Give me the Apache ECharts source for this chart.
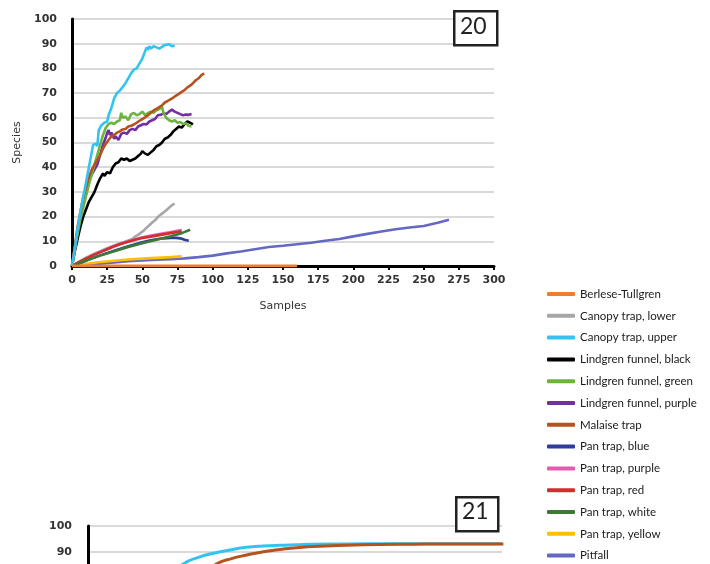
<!DOCTYPE html>
<html><head><meta charset="utf-8">
<script src="https://cdn.jsdelivr.net/npm/echarts@6/dist/echarts.min.js"></script>
<style>html,body{margin:0;padding:0;background:#fff}#c{width:710px;height:564px}</style>
</head><body><div id="c"></div>
<script>
// ---- Panel 20 data: [samples, species] ----
const berleseTullgren = [[0,0],[40,0],[80,0],[120,0],[160,0]];
const canopyLower = [[0,0],[5,1.8],[10,3.4],[15,4.8],[20,6],[25,7.2],[30,8.3],[35,9.3],[40,10.3],[43,11],[45,12],[47,12.6],[49,13.5],[51,14.3],[53,15.5],[55,16.5],[57,17.6],[59,18.5],[61,19.8],[63,20.8],[65,21.6],[67,22.6],[69,23.6],[71,24.6],[73,25.3]];
const canopyUpper = [[0,0],[2,7],[4,15],[6,22],[8,28],[10,34],[12,40],[14,46],[15,49],[17,49.5],[18,48.5],[19,55],[21,57],[23,58],[25,58.5],[26,61],[28,64],[30,68],[32,70],[34,71],[36,72.5],[38,74],[40,76],[42,78],[44,79.5],[46,80],[48,82],[50,84],[52,87],[53,88.5],[54,87.5],[55,89],[56,88],[57,88.5],[58,89],[60,88.5],[62,88],[64,88.7],[66,89.5],[67,89],[69,89.8],[71,89],[73,89.3]];
const lindgrenBlack = [[0,0],[2,6],[4,11],[6,16],[8,20],[10,23],[12,26],[14,28],[16,30],[18,33],[20,35.5],[22,37.5],[23,36.5],[25,38],[27,37.5],[29,40],[31,41.5],[33,42],[35,43.5],[37,43],[39,43.5],[41,42.5],[43,43],[45,43.5],[47,44.5],[49,45.5],[50,46.5],[52,45.5],[54,45],[56,46],[58,47],[60,48.5],[62,49],[64,50],[66,51.5],[68,52],[70,53],[72,54.5],[74,55.5],[76,56.5],[78,56],[80,57.5],[82,58.5],[84,58],[86,57.3]];
const lindgrenGreen = [[0,0],[3,10],[6,19],[9,26],[12,33],[15,39],[18,45],[20,49],[22,53],[24,56],[26,57.5],[28,58],[30,57.5],[32,58.5],[34,59],[35,62],[36,60],[38,60.5],[40,59],[42,61.5],[44,62],[46,61],[48,61.5],[50,62.5],[52,61],[54,62],[56,62.5],[58,62],[60,63],[62,63.5],[64,64.5],[65,62],[67,60],[69,59],[71,58.5],[73,59],[75,58],[77,58.3],[79,57.5],[81,57.8],[83,56.8],[85,56.5]];
const lindgrenPurple = [[0,0],[2,7],[4,14],[6,20],[8,26],[10,30],[12,34],[14,37],[16,39],[18,41],[20,45],[22,49],[24,52],[25,54],[26,55],[27,53],[28,54],[30,51.5],[31,52.5],[33,51],[35,53.5],[37,54],[39,53.5],[41,55],[43,55.5],[45,55],[47,56.5],[49,57],[51,57.5],[53,57.3],[55,58.5],[57,59],[59,59.5],[61,61],[63,61.2],[65,61.8],[67,61.5],[69,62.5],[71,63.3],[73,62.5],[75,62],[77,61.5],[79,61],[81,61.3],[83,61.2],[85,61.5]];
const malaiseTrap = [[0,0],[2,8],[4,16],[6,22],[8,28],[10,32],[12,36],[14,39],[16,41],[18,43],[20,45],[22,47.5],[24,49.5],[26,51],[28,52.5],[30,53],[32,54],[34,54.5],[36,55.3],[38,55.5],[40,56.5],[42,56.8],[44,57.3],[46,58],[48,58.8],[50,59.5],[52,60.2],[54,61],[56,62],[58,63],[60,63.6],[62,64.3],[64,65],[66,66.2],[68,66.8],[70,67.5],[72,68.2],[74,69],[76,69.7],[78,70.5],[80,71.2],[82,72.3],[84,73],[86,74],[88,75.2],[90,76],[92,77.3],[94,78]];
const panBlue = [[0,0],[10,2.2],[20,4.3],[30,6.2],[40,8],[50,9.6],[55,10.3],[60,10.8],[65,11.2],[70,11.4],[74,11.4],[77,11.2],[80,10.6],[83,10.2]];
const panPurple = [[0,0],[10,3],[20,5.5],[30,8],[40,10],[50,11.6],[60,12.7],[68,13.5],[74,14.2],[78,14.6]];
const panRed = [[0,0],[5,1.6],[10,3],[15,4.4],[20,5.6],[25,6.8],[30,8],[35,9],[40,9.8],[45,10.6],[50,11.3],[55,11.8],[60,12.3],[65,12.8],[70,13.3],[75,13.8],[78,14]];
const panWhite = [[0,0],[5,1.1],[10,2.2],[20,4.2],[30,6],[40,7.7],[50,9.2],[60,10.6],[70,12],[78,13.3],[84,14.7]];
const panYellow = [[0,0],[5,0.5],[10,0.9],[20,1.6],[30,2.1],[40,2.6],[50,3],[60,3.3],[70,3.6],[78,3.9]];
const pitfall = [[0,0],[10,0.5],[20,0.9],[30,1.4],[40,1.9],[50,2.2],[60,2.5],[70,2.8],[80,3.1],[90,3.6],[100,4.2],[110,5.1],[120,5.9],[130,6.8],[140,7.7],[150,8.2],[160,8.8],[170,9.4],[180,10.2],[190,10.9],[200,12.0],[210,13.0],[220,14.0],[230,14.9],[240,15.6],[250,16.2],[260,17.5],[268,18.7]];

// ---- Panel 21 (partly visible) ----
const p21CanopyUpper = [[0,0],[20,45],[40,70],[55,79],[69,85.2],[80,87.8],[91,89.4],[103,90.7],[115,91.7],[127,92.2],[139,92.5],[151,92.7],[163,92.9],[187,93],[220,93.1],[260,93.1],[300,93.1]];
const p21Malaise = [[0,0],[30,50],[60,72],[80,80],[93,85.2],[104,87.3],[115,88.7],[127,90],[139,90.9],[151,91.5],[163,92],[187,92.5],[211,92.8],[235,92.9],[260,93],[301,93]];

const seriesNames = ['Berlese-Tullgren','Canopy trap, lower','Canopy trap, upper','Lindgren funnel, black','Lindgren funnel, green','Lindgren funnel, purple','Malaise trap','Pan trap, blue','Pan trap, purple','Pan trap, red','Pan trap, white','Pan trap, yellow','Pitfall'];
const seriesData = [berleseTullgren, canopyLower, canopyUpper, lindgrenBlack, lindgrenGreen, lindgrenPurple, malaiseTrap, panBlue, panPurple, panRed, panWhite, panYellow, pitfall];
const seriesColors = ['#ED7D31','#A6A6A6','#33C3F2','#000000','#6DB33F','#7030A0','#B5521E','#2E3C9C','#E25DB0','#D32E2F','#3C7A35','#FFC000','#6468C4'];
const yTicks = [0,10,20,30,40,50,60,70,80,90,100];
const xTicks = [0,25,50,75,100,125,150,175,200,225,250,275,300];
const panelLabels = ['20','21'];

const chart = echarts.init(document.getElementById('c'), null, {renderer:'canvas'});
const axisFont = {fontFamily:'DejaVu Sans', fontSize:11, fontWeight:'bold', color:'#333'};
const drawOrder = [12,11,0,1,7,8,9,10,3,5,4,6,2];
const series = [];
drawOrder.forEach(i => {
  series.push({name:seriesNames[i], type:'line', xAxisIndex:0, yAxisIndex:0, data:seriesData[i],
    showSymbol:false, symbol:'none', lineStyle:{width:i===0?3:2.6, color:seriesColors[i]}, itemStyle:{color:seriesColors[i]},
    z: i===0?5:3, animation:false});
});
series.push({name:'Canopy trap, upper', type:'line', xAxisIndex:1, yAxisIndex:1, data:p21CanopyUpper, smooth:true,
  showSymbol:false, symbol:'none', lineStyle:{width:3, color:'#33C3F2'}, itemStyle:{color:'#33C3F2'}, animation:false});
series.push({name:'Malaise trap', type:'line', xAxisIndex:1, yAxisIndex:1, data:p21Malaise, smooth:true,
  showSymbol:false, symbol:'none', lineStyle:{width:3, color:'#B5521E'}, itemStyle:{color:'#B5521E'}, animation:false});

chart.setOption({
  animation:false,
  backgroundColor:'#fff',
  grid:[{left:72, top:19, width:422, height:247, outerBoundsMode:'none'},
        {left:88, top:526, width:414, height:257, outerBoundsMode:'none'}],
  xAxis:[
    {type:'value', gridIndex:0, min:0, max:300, interval:25, name:'Samples', nameLocation:'middle', nameGap:35,
     nameTextStyle:{fontFamily:'DejaVu Sans', fontSize:11, color:'#333'},
     axisLine:{lineStyle:{color:'#000', width:3}}, axisTick:{show:true, length:4, lineStyle:{color:'#000', width:2}},
     axisLabel:Object.assign({margin:9}, axisFont), splitLine:{show:false}},
    {type:'value', gridIndex:1, min:0, max:300, interval:25, show:false, splitLine:{show:false}}
  ],
  yAxis:[
    {type:'value', gridIndex:0, min:0, max:100, interval:10, name:'Species', nameLocation:'middle', nameGap:45,
     nameTextStyle:{fontFamily:'DejaVu Sans', fontSize:11, color:'#333'},
     axisLine:{show:true, lineStyle:{color:'#000', width:3}}, axisTick:{show:false},
     axisLabel:Object.assign({margin:15}, axisFont), splitLine:{lineStyle:{color:'#D9D9D9', width:2}}},
    {type:'value', gridIndex:1, min:0, max:100, interval:10,
     axisLine:{show:true, lineStyle:{color:'#000', width:3}}, axisTick:{show:false},
     axisLabel:Object.assign({margin:16, padding:[2,0,0,0]}, axisFont), splitLine:{lineStyle:{color:'#D9D9D9', width:2}}}
  ],
  legend:{orient:'vertical', left:547, top:287, padding:0, height:277, data:seriesNames, icon:'roundRect', itemWidth:28, itemHeight:4,
    itemGap:7.8, textStyle:{fontFamily:'Lato', fontSize:11.5, color:'#1a1a1a', lineHeight:14}, selectedMode:false},
  graphic:[
    {type:'rect', left:453, top:10, shape:{width:43, height:34}, style:{fill:'#fff', stroke:'#222', lineWidth:2.5}, z:10},
    {type:'text', left:460, top:15, style:{text:panelLabels[0], fontFamily:'Lato', fontSize:23, fill:'#222'}, z:11},
    {type:'rect', left:455, top:496, shape:{width:42, height:34}, style:{fill:'#fff', stroke:'#222', lineWidth:2.5}, z:10},
    {type:'text', left:462, top:500, style:{text:panelLabels[1], fontFamily:'Lato', fontSize:23, fill:'#222'}, z:11}
  ],
  series:series
});
</script></body></html>
